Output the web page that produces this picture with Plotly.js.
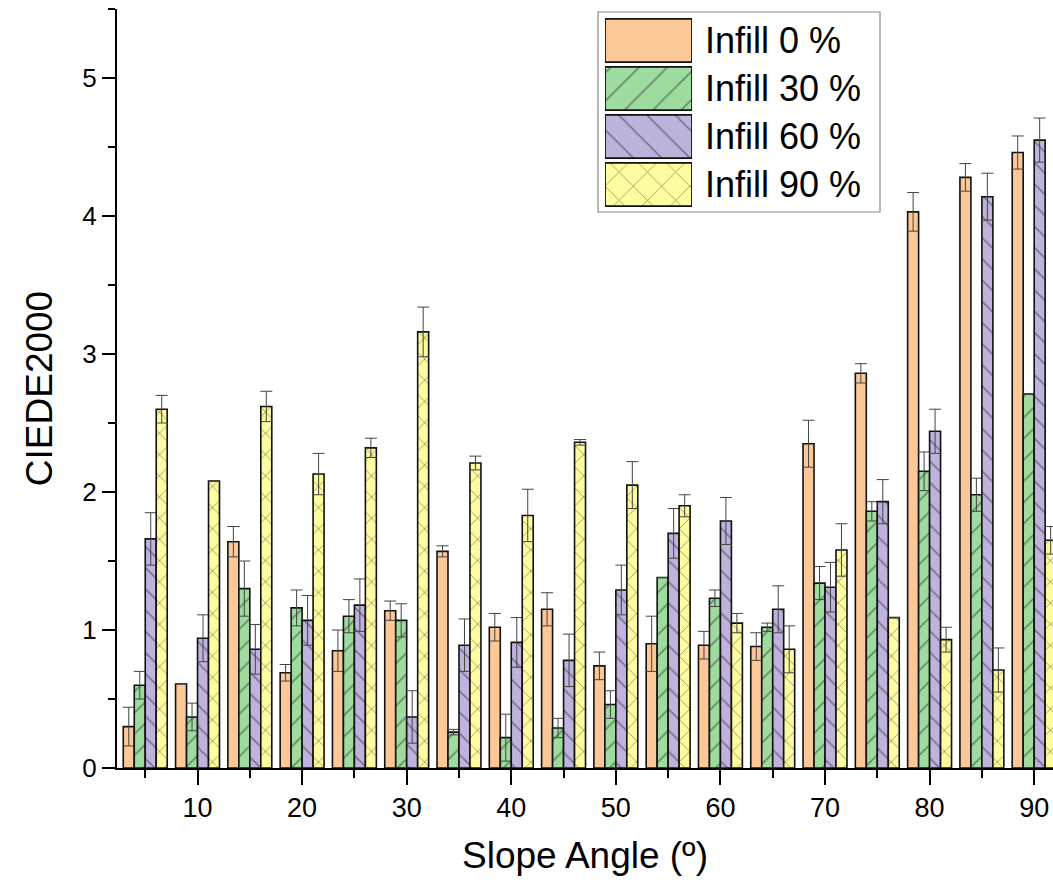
<!DOCTYPE html>
<html>
<head>
<meta charset="utf-8">
<script src="https://cdn.plot.ly/plotly-3.0.1.min.js"></script>
<style>html,body{margin:0;padding:0;background:#fff;}#chart{width:1053px;height:890px;}</style>
</head>
<body>
<div id="chart"></div>
<script>
// Slope angle categories (degrees)
const angles = [5,10,15,20,25,30,35,40,45,50,55,60,65,70,75,80,85,90];
// Series names
const seriesNames = ["Infill 0 %","Infill 30 %","Infill 60 %","Infill 90 %"];
// CIEDE2000 values and errors per series
const infill0  = [0.30,0.61,1.64,0.69,0.85,1.14,1.57,1.02,1.15,0.74,0.90,0.89,0.88,2.35,2.86,4.03,4.28,4.46];
const err0     = [0.14,0.00,0.11,0.06,0.15,0.07,0.04,0.10,0.12,0.10,0.20,0.10,0.10,0.17,0.07,0.14,0.10,0.12];
const infill30 = [0.60,0.37,1.30,1.16,1.10,1.07,0.26,0.22,0.29,0.46,1.38,1.23,1.02,1.34,1.86,2.15,1.98,2.71];
const err30    = [0.10,0.10,0.20,0.13,0.12,0.12,0.02,0.17,0.07,0.10,0.00,0.06,0.03,0.12,0.07,0.14,0.12,0.00];
const infill60 = [1.66,0.94,0.86,1.07,1.18,0.37,0.89,0.91,0.78,1.29,1.70,1.79,1.15,1.31,1.93,2.44,4.14,4.55];
const err60    = [0.19,0.17,0.18,0.18,0.19,0.19,0.19,0.18,0.19,0.18,0.18,0.17,0.17,0.18,0.16,0.16,0.17,0.16];
const infill90 = [2.60,2.08,2.62,2.13,2.32,3.16,2.21,1.83,2.36,2.05,1.90,1.05,0.86,1.58,1.09,0.93,0.71,1.65];
const err90    = [0.10,0.00,0.11,0.15,0.07,0.18,0.05,0.19,0.02,0.17,0.08,0.07,0.17,0.19,0.00,0.09,0.16,0.10];
// Tick labels
const xTickVals = [10,20,30,40,50,60,70,80,90];
const yTickVals = [0,1,2,3,4,5];

const values = [infill0, infill30, infill60, infill90];
const errors = [err0, err30, err60, err90];
const fills = ["#FDC898", "#9EDB9E", "#BFB3DE", "#FDFCA0"];
const shapes = ["", "/", "\\", "x"];
const barW = 1.05;

const traces = [];
for (let i = 0; i < 4; i++) {
  traces.push({
    type: "bar",
    name: seriesNames[i],
    x: angles,
    y: values[i],
    width: barW,
    offset: (i - 2) * barW,
    showlegend: false,
    marker: {
      color: fills[i],
      line: {color: "#111", width: 1.6},
      pattern: {shape: shapes[i], fgcolor: "#333", bgcolor: fills[i], fillmode: "overlay", size: 15, solidity: 0.11}
    },
    error_y: {type: "data", array: errors[i], visible: true, color: "#444", thickness: 1, width: 6}
  });
}
// Legend swatches as an inset
for (let i = 0; i < 4; i++) {
  traces.push({
    type: "bar",
    orientation: "h",
    x: [1],
    y: [i],
    width: 0.9,
    xaxis: "x2",
    yaxis: "y2",
    showlegend: false,
    hoverinfo: "skip",
    marker: {
      color: fills[i],
      line: {color: "#111", width: 1.8},
      pattern: {shape: shapes[i], fgcolor: "#333", bgcolor: fills[i], fillmode: "overlay", size: 20, solidity: 0.08}
    }
  });
}

const L = 117, T = 9, PW = 936, PH = 759;
const px = v => (v - L) / PW;
const py = v => (T + PH - v) / PH;

const annotations = seriesNames.map((n, i) => ({
  xref: "paper", yref: "paper",
  x: px(703), y: py(40.5 + 48 * i),
  xanchor: "left", yanchor: "middle",
  text: n, showarrow: false,
  font: {family: "Liberation Sans, Arial, sans-serif", size: 36, color: "#000"}
}));

const layout = {
  width: 1053, height: 890,
  margin: {l: L, r: 0, t: T, b: 890 - T - PH},
  paper_bgcolor: "#fff", plot_bgcolor: "#fff",
  barmode: "overlay",
  showlegend: false,
  font: {family: "Liberation Sans, Arial, sans-serif", color: "#000"},
  xaxis: {
    range: [2.3, 91.8],
    tickvals: xTickVals,
    ticktext: xTickVals.map(String),
    ticks: "outside", ticklen: 15, tickwidth: 2, tickcolor: "#000",
    minor: {tickvals: [5,15,25,35,45,55,65,75,85], ticks: "outside", ticklen: 8, tickwidth: 2, tickcolor: "#000"},
    showline: true, linewidth: 2, linecolor: "#000",
    showgrid: false, zeroline: false,
    tickfont: {family: "Liberation Sans, Arial, sans-serif", size: 27},
    title: {text: "Slope Angle (º)", font: {family: "Liberation Sans, Arial, sans-serif", size: 37}, standoff: 20}
  },
  yaxis: {
    range: [0, 5.5],
    tickvals: yTickVals,
    ticktext: yTickVals.map(String),
    ticks: "outside", ticklen: 13, tickwidth: 2, tickcolor: "#000",
    minor: {dtick: 0.5, ticks: "outside", ticklen: 7, tickwidth: 2, tickcolor: "#000"},
    showline: true, linewidth: 2, linecolor: "#000",
    showgrid: false, zeroline: false,
    tickfont: {family: "Liberation Sans, Arial, sans-serif", size: 26},
    title: {text: "CIEDE2000", font: {family: "Liberation Sans, Arial, sans-serif", size: 37}, standoff: 18}
  },
  xaxis2: {domain: [px(605), px(692)], range: [0, 1], visible: false, fixedrange: true},
  yaxis2: {domain: [py(208.5), py(16.5)], range: [3.5, -0.5], visible: false, fixedrange: true, anchor: "x2"},
  shapes: [{
    type: "rect", xref: "paper", yref: "paper",
    x0: px(598), x1: px(880), y0: py(212), y1: py(12),
    line: {color: "#888", width: 1.2}, fillcolor: "rgba(0,0,0,0)", layer: "below"
  }],
  annotations: annotations
};

Plotly.newPlot("chart", traces, layout, {displayModeBar: false, staticPlot: true});
</script>
</body>
</html>
